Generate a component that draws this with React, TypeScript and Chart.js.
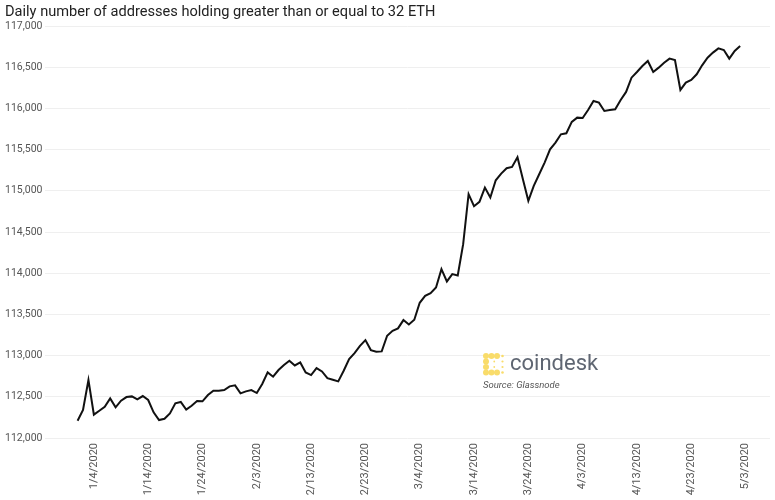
import React, { useEffect, useRef } from 'react';
import { Chart, registerables } from 'chart.js';

Chart.register(...registerables);

const titleText = 'Daily number of addresses holding greater than or equal to 32 ETH';
const sourceText = 'Source: Glassnode';
const brandText = 'coindesk';

// Daily values from 1/1/2020 (day 0) to 5/2/2020 (day 122)
const addressCounts: number[] = [
  112210, 112340, 112703, 112283, 112331, 112380, 112481, 112372, 112453, 112497,
  112505, 112469, 112509, 112461, 112311, 112218, 112234, 112299, 112420, 112437,
  112344, 112392, 112449, 112445, 112521, 112574, 112574, 112582, 112627, 112639,
  112542, 112566, 112582, 112546, 112655, 112796, 112744, 112825, 112885, 112938,
  112880, 112917, 112796, 112764, 112849, 112808, 112727, 112707, 112687, 112816,
  112958, 113031, 113119, 113188, 113067, 113047, 113051, 113241, 113301, 113330,
  113431, 113378, 113435, 113641, 113726, 113758, 113827, 114049, 113900, 113989,
  113972, 114352, 114959, 114813, 114866, 115039, 114918, 115128, 115209, 115274,
  115290, 115408, 115140, 114878, 115060, 115201, 115343, 115504, 115585, 115686,
  115698, 115836, 115888, 115884, 115981, 116090, 116070, 115969, 115981, 115989,
  116103, 116200, 116373, 116442, 116515, 116576, 116442, 116495, 116555, 116604,
  116588, 116224, 116313, 116345, 116414, 116523, 116616, 116677, 116729, 116709,
  116604, 116697, 116757,
];

const tickDays: number[] = [3, 13, 23, 33, 43, 53, 63, 73, 83, 93, 103, 113, 123];
const tickLabels: string[] = [
  '1/4/2020', '1/14/2020', '1/24/2020', '2/3/2020', '2/13/2020', '2/23/2020',
  '3/4/2020', '3/14/2020', '3/24/2020', '4/3/2020', '4/13/2020', '4/23/2020', '5/3/2020',
];
const yMin = 112000;
const yMax = 117000;
const yStep = 500;

const FONT = 'Roboto, "Liberation Sans", Arial, sans-serif';

const brandPlugin = {
  id: 'brand',
  afterDraw(chart: any) {
    const ctx = chart.ctx as CanvasRenderingContext2D;
    ctx.save();
    // icon: a bracket of beads with small dots inside
    const ox = 486;
    const oy = 356;
    const g = 5.5;
    ctx.fillStyle = '#f9dc6a';
    const big = [
      [0, 0], [1, 0], [2, 0],
      [0, 1], [0, 2],
      [0, 3], [1, 3], [2, 3],
    ];
    for (const [i, j] of big) {
      ctx.beginPath();
      ctx.arc(ox + i * g, oy + j * g, 3, 0, Math.PI * 2);
      ctx.fill();
    }
    const small = [[3, 0], [1.5, 1], [3, 1], [1.5, 2], [3, 2], [3, 3]];
    const sizes = [1.3, 0.9, 1.1, 0.9, 1.1, 1.3];
    small.forEach(([i, j], k) => {
      ctx.beginPath();
      ctx.arc(ox + i * g, oy + j * g, sizes[k], 0, Math.PI * 2);
      ctx.fill();
    });
    // brand text
    ctx.fillStyle = '#5f6672';
    ctx.font = `22px ${FONT}`;
    ctx.textBaseline = 'alphabetic';
    ctx.textAlign = 'left';
    ctx.fillText(brandText, 510, 370);
    ctx.fillStyle = '#555555';
    ctx.font = `italic 9.5px ${FONT}`;
    ctx.fillText(sourceText, 483, 388);
    ctx.restore();
  },
};

export default function App() {
  const canvasRef = useRef<HTMLCanvasElement | null>(null);

  useEffect(() => {
    document.body.style.margin = '0';
    const canvas = canvasRef.current;
    if (!canvas) return;
    const points = addressCounts.map((v, i) => ({ x: i, y: v }));
    const chart = new Chart(canvas, {
      type: 'line',
      data: {
        datasets: [
          {
            data: points,
            borderColor: '#111111',
            borderWidth: 2,
            pointRadius: 0,
            tension: 0,
            fill: false,
          },
        ],
      },
      options: {
        animation: false,
        responsive: false,
        maintainAspectRatio: false,
        layout: { padding: { left: 5, right: 5, top: 2, bottom: 2 } },
        plugins: {
          legend: { display: false },
          tooltip: { enabled: false },
          title: {
            display: true,
            text: titleText,
            align: 'start',
            color: '#222222',
            font: { family: FONT, size: 14.6, weight: 'normal' },
            padding: { top: 2, bottom: 4.5 },
          },
        },
        scales: {
          x: {
            type: 'linear',
            min: -6,
            max: 127.5,
            grid: { display: false, drawTicks: false },
            border: { display: false },
            afterBuildTicks: (scale: any) => {
              scale.ticks = tickDays.map((v) => ({ value: v }));
            },
            afterFit: (scale: any) => {
              scale.height = 60;
            },
            ticks: {
              autoSkip: false,
              minRotation: 90,
              maxRotation: 90,
              color: '#555555',
              padding: 5,
              font: { family: FONT, size: 11 },
              callback: (value: any) => {
                const idx = tickDays.indexOf(Number(value));
                return idx >= 0 ? tickLabels[idx] : '';
              },
            },
          },
          y: {
            min: yMin,
            max: yMax,
            afterFit: (scale: any) => {
              scale.width = 40;
            },
            grid: { color: '#efefef', drawTicks: false },
            border: { display: false },
            ticks: {
              stepSize: yStep,
              crossAlign: 'far',
              color: '#555555',
              font: { family: FONT, size: 10.5 },
              callback: (value: any) => Number(value).toLocaleString('en-US'),
            },
          },
        },
      },
      plugins: [brandPlugin],
    });
    return () => chart.destroy();
  }, []);

  return (
    <div style={{ position: 'fixed', left: 0, top: 0, width: 775, height: 500, background: '#fff' }}>
      <canvas ref={canvasRef} width={775} height={500} style={{ width: 775, height: 500 }} />
    </div>
  );
}
